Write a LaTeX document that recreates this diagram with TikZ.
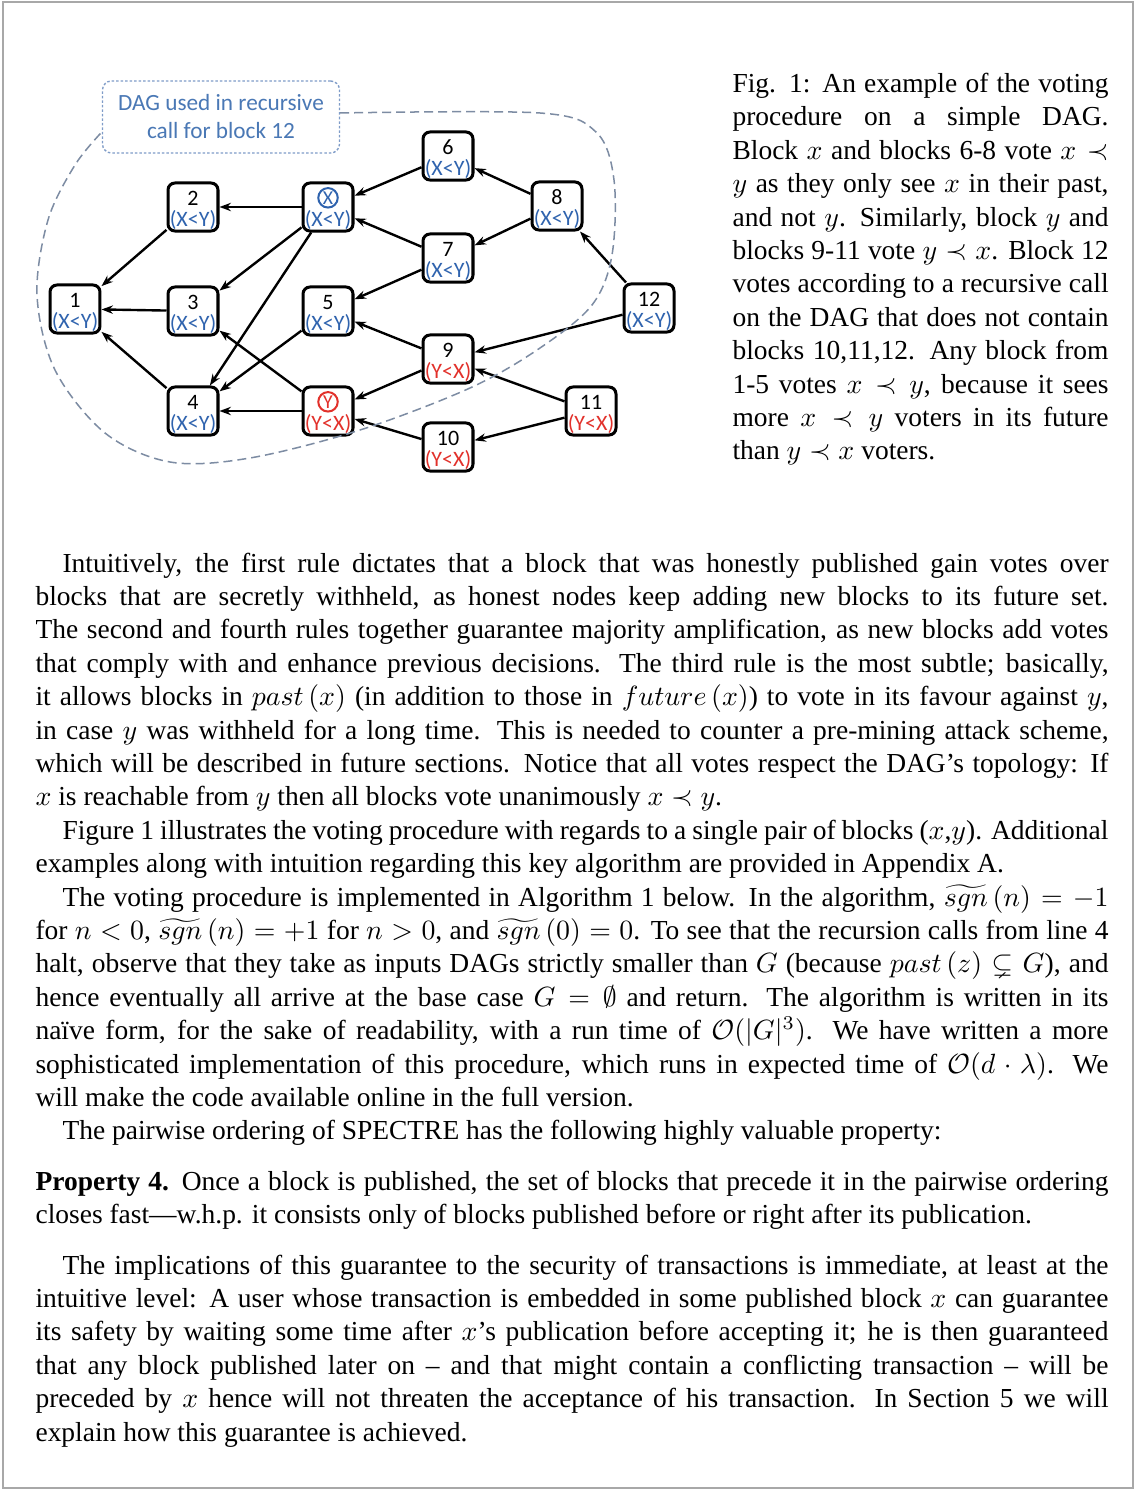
\documentclass[tikz,border=0pt]{standalone}
\usepackage{amssymb}
\usepackage[no-math]{fontspec}
\setmainfont{Liberation Serif}
\newfontfamily\calibrifont{Carlito}
\usetikzlibrary{arrows.meta}
\definecolor{votex}{HTML}{2F63AE}
\definecolor{votey}{HTML}{E2312B}
\definecolor{regionc}{HTML}{7D8CA3}
\definecolor{lblc}{HTML}{4A78B5}
\definecolor{lblborder}{HTML}{7F9CC8}
\definecolor{framec}{HTML}{A8A8A8}
\newcommand\myjl[1]{\hbox to\hsize{#1}}
\newcommand\mylast[1]{\hbox to\hsize{#1\hfil}}
\newcommand\bodyfont{\fontsize{9.87pt}{12pt}\selectfont\spaceskip=2.47pt plus 1.6pt minus 1.15pt\relax}
\newcommand\topstrut{\rule{0pt}{7.5pt}}
\begin{document}
% 1 px = 0.35928pt
\begin{tikzpicture}[x=0.35928pt,y=-0.35928pt,
  blk/.style={draw=black, line width=1.08pt, rounded corners=2.5pt, minimum width=17.96pt, minimum height=17.25pt, inner sep=0pt, align=center, font=\calibrifont\fontsize{7.9pt}{7.45pt}\selectfont},
  circ/.style={circle, line width=0.72pt, minimum size=7.0pt, inner sep=0pt, font=\calibrifont\fontsize{7.1pt}{7.1pt}\selectfont},
  arr/.style={-{Stealth[length=4.1pt,width=3pt]}, line width=0.86pt, black},
  lbl/.style={draw=lblborder, line width=0.5pt, dash pattern=on 0.9pt off 0.72pt, rounded corners=3.2pt, minimum width=85.15pt, minimum height=25.87pt, align=center, text=lblc, font=\calibrifont\fontsize{8.35pt}{10.06pt}\selectfont},
  region/.style={draw=regionc, line width=0.54pt, dash pattern=on 3.23pt off 1.8pt},
  para/.style={inner sep=0pt, anchor=base west, font=\bodyfont}
]
\useasboundingbox (0,0) rectangle (1136,1490);
\fill[white] (0,0) rectangle (1136,1490);
\draw[framec, line width=0.72pt] (3,2) rectangle (1133,1488);

% --- blocks
\node[blk] (b1) at (75,309) {\topstrut 1\\\textcolor{votex}{(X<Y)}};
\node[blk] (b2) at (193,207) {\topstrut 2\\\textcolor{votex}{(X<Y)}};
\node[blk] (b3) at (193,311) {\topstrut 3\\\textcolor{votex}{(X<Y)}};
\node[blk] (b4) at (193,411) {\topstrut 4\\\textcolor{votex}{(X<Y)}};
\node[blk] (bx) at (328,207) {\topstrut\phantom{1}\\\textcolor{votex}{(X<Y)}};
\node[blk] (b5) at (328,311) {\topstrut 5\\\textcolor{votex}{(X<Y)}};
\node[blk] (by) at (328,411) {\topstrut\phantom{1}\\\textcolor{votey}{(Y<X)}};
\node[blk] (b6) at (448,156) {\topstrut 6\\\textcolor{votex}{(X<Y)}};
\node[blk] (b7) at (448,258) {\topstrut 7\\\textcolor{votex}{(X<Y)}};
\node[blk] (b8) at (557,206) {\topstrut 8\\\textcolor{votex}{(X<Y)}};
\node[blk] (b9) at (448,359) {\topstrut 9\\\textcolor{votey}{(Y<X)}};
\node[blk] (b10) at (448,447) {\topstrut 10\\\textcolor{votey}{(Y<X)}};
\node[blk] (b11) at (591,411) {\topstrut 11\\\textcolor{votey}{(Y<X)}};
\node[blk] (b12) at (649,308) {\topstrut 12\\\textcolor{votex}{(X<Y)}};
\node[circ, draw=votex, text=votex] (cx) at ([yshift=3.3pt]bx.center) {X};
\node[circ, draw=votey, text=votey] (cy) at ([yshift=3.3pt]by.center) {Y};

% --- edges
\draw[arr] (b2) -- (b1);
\draw[arr] (b3) -- (b1);
\draw[arr] (b4) -- (b1);
\draw[arr] (bx) -- (b2);
\draw[arr] (bx) -- (b3);
\draw[arr] (bx) -- (b4);
\draw[arr] (b5) -- (b4);
\draw[arr] (by) -- (b3);
\draw[arr] (by) -- (b4);
\draw[arr] (b6) -- (bx);
\draw[arr] (b7) -- (bx);
\draw[arr] (b7) -- (b5);
\draw[arr] (b9) -- (b5);
\draw[arr] (b9) -- (by);
\draw[arr] (b10) -- (by);
\draw[arr] (b8) -- (b6);
\draw[arr] (b8) -- (b7);
\draw[arr] (b12) -- (b8);
\draw[arr] (b12) -- (b9);
\draw[arr] (b11) -- (b9);
\draw[arr] (b11) -- (b10);

% --- recursive-call region
\node[lbl] (lbl) at (221,117) {DAG used in recursive\\call for block 12};
\draw[region] plot[smooth, tension=0.55] coordinates {([yshift=1.44pt]lbl.east) (540,113) (596,132) (614,180) (612,255) (592,305) (540,348) (470,388) (360,430) (250,458) (170,462) (105,433) (55,370) (37,295) (48,220) (75,165) ([yshift=-5.4pt]lbl.west)};

% --- caption
\node[para] (cap) at (732,92.5) {\vtop{\hsize=135.1pt
\myjl{Fig. 1: An example of the voting}
\myjl{procedure on a simple DAG.}
\myjl{Block $x$ and blocks 6-8 vote $x\prec$}
\myjl{$y$ as they only see $x$ in their past,}
\myjl{and not $y$. Similarly, block $y$ and}
\myjl{blocks 9-11 vote $y\prec x$. Block 12}
\myjl{votes according to a recursive call}
\myjl{on the DAG that does not contain}
\myjl{blocks 10,11,12. Any block from}
\myjl{1-5 votes $x\prec y$, because it sees}
\myjl{more $x\prec y$ voters in its future}
\mylast{than $y\prec x$ voters.}}};

% --- body text
\node[para] (body) at (35,572) {\vtop{\hsize=385.5pt
\myjl{\hskip9.7pt Intuitively, the first rule dictates that a block that was honestly published gain votes over}
\myjl{blocks that are secretly withheld, as honest nodes keep adding new blocks to its future set.}
\myjl{The second and fourth rules together guarantee majority amplification, as new blocks add votes}
\myjl{that comply with and enhance previous decisions. The third rule is the most subtle; basically,}
\myjl{it allows blocks in $past\left(x\right)$ (in addition to those in $future\left(x\right)$) to vote in its favour against $y$,}
\myjl{in case $y$ was withheld for a long time. This is needed to counter a pre-mining attack scheme,}
\myjl{which will be described in future sections. Notice that all votes respect the DAG's topology: If}
\mylast{$x$ is reachable from $y$ then all blocks vote unanimously $x\prec y$.}
\myjl{\hskip9.7pt Figure 1 illustrates the voting procedure with regards to a single pair of blocks ($x$,$y$). Additional}
\mylast{examples along with intuition regarding this key algorithm are provided in Appendix A.}
\myjl{\hskip9.7pt The voting procedure is implemented in Algorithm 1 below. In the algorithm, $\widetilde{sgn}\left(n\right)=-1$}
\myjl{for $n<0$, $\widetilde{sgn}\left(n\right)=+1$ for $n>0$, and $\widetilde{sgn}\left(0\right)=0$. To see that the recursion calls from line 4}
\myjl{halt, observe that they take as inputs DAGs strictly smaller than $G$ (because $past\left(z\right)\subsetneq G$), and}
\myjl{hence eventually all arrive at the base case $G=\emptyset$ and return. The algorithm is written in its}
\myjl{naïve form, for the sake of readability, with a run time of $\mathcal{O}(|G|^3)$. We have written a more}
\myjl{sophisticated implementation of this procedure, which runs in expected time of $\mathcal{O}(d\cdot\lambda)$. We}
\mylast{will make the code available online in the full version.}
\mylast{\hskip9.7pt The pairwise ordering of SPECTRE has the following highly valuable property:}}};

\node[para] (prop) at (35,1190.5) {\vtop{\hsize=385.5pt
\myjl{\textbf{Property 4.} Once a block is published, the set of blocks that precede it in the pairwise ordering}
\mylast{closes fast—w.h.p. it consists only of blocks published before or right after its publication.}}};

\node[para] (impl) at (35,1274) {\vtop{\hsize=385.5pt
\myjl{\hskip9.7pt The implications of this guarantee to the security of transactions is immediate, at least at the}
\myjl{intuitive level: A user whose transaction is embedded in some published block $x$ can guarantee}
\myjl{its safety by waiting some time after $x$'s publication before accepting it; he is then guaranteed}
\myjl{that any block published later on – and that might contain a conflicting transaction – will be}
\myjl{preceded by $x$ hence will not threaten the acceptance of his transaction. In Section 5 we will}
\mylast{explain how this guarantee is achieved.}}};
\end{tikzpicture}
\end{document}
